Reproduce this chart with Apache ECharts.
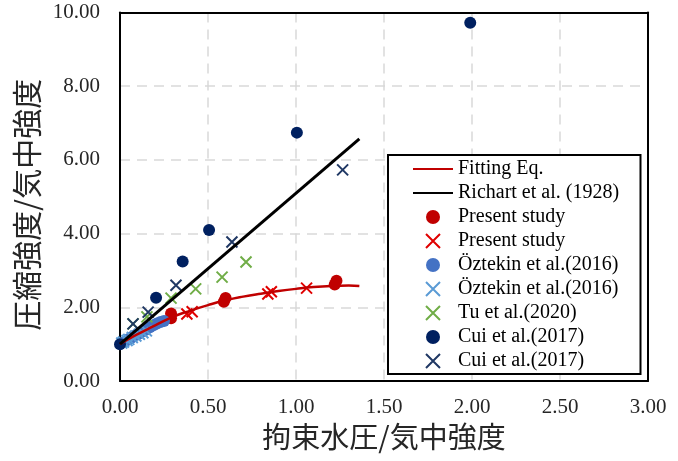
<!DOCTYPE html>
<html>
<head>
<meta charset="utf-8">
<script src="https://cdn.jsdelivr.net/npm/echarts@6/dist/echarts.min.js"></script>
<style>html,body{margin:0;padding:0;background:#fff}#c{width:678px;height:461px}</style>
</head>
<body>
<div id="c"></div>
<script>
// ---- data ----
var xTitle = '拘束水圧/気中強度';
var yTitle = '圧縮強度/気中強度';
var xTicks = [0, 3, 0.5];
var yTicks = [0, 10, 2];
var fittingEq = [[0,1.0],[0.05,1.14],[0.1,1.27],[0.15,1.39],[0.2,1.51],[0.3,1.74],[0.4,1.91],[0.5,2.06],[0.6,2.19],[0.7,2.29],[0.8,2.37],[0.9,2.44],[1.0,2.50],[1.1,2.55],[1.2,2.58],[1.3,2.59],[1.36,2.58]];
var richart = [[0,1.0],[1.36,6.57]];
var presentDots = [[0.29,1.70],[0.29,1.83],[0.59,2.15],[0.60,2.25],[1.22,2.62],[1.23,2.72]];
var presentCross = [[0.38,1.82],[0.41,1.88],[0.84,2.36],[0.86,2.42],[1.06,2.52]];
var oztekinDots = [[0.03,1.08],[0.05,1.14],[0.06,1.16],[0.07,1.20],[0.09,1.25],[0.10,1.27],[0.11,1.30],[0.13,1.35],[0.14,1.38],[0.15,1.41],[0.17,1.46],[0.19,1.51],[0.21,1.56],[0.23,1.60],[0.25,1.63]];
var oztekinCross = [[0.01,1.03],[0.02,1.06],[0.04,1.10],[0.05,1.13],[0.07,1.18],[0.09,1.22],[0.11,1.27],[0.13,1.31],[0.15,1.36]];
var tuCross = [[0.074,1.55],[0.153,1.74],[0.29,2.25],[0.43,2.50],[0.58,2.82],[0.716,3.23]];
var cuiDots = [[0,1.0],[0.205,2.26],[0.356,3.24],[0.506,4.10],[1.005,6.74],[1.99,9.72]];
var cuiCross = [[0.074,1.55],[0.16,1.87],[0.318,2.60],[0.636,3.77],[1.265,5.73]];
var names = ['Fitting Eq.','Richart et al. (1928)','Present study','Present study ','Öztekin et al.(2016)','Öztekin et al.(2016) ','Tu et al.(2020)','Cui et al.(2017)','Cui et al.(2017) '];

var serif = 'Liberation Serif';
var cross = 'path://M0,0L10,10M10,0L0,10';
function dots(name, data, color){
  return {name:name,type:'scatter',data:data,symbol:'circle',symbolSize:12,
    itemStyle:{color:color,opacity:1}};
}
function crosses(name, data, color){
  return {name:name,type:'scatter',data:data,symbol:cross,symbolSize:11,
    itemStyle:{color:color,borderColor:color,borderWidth:2,opacity:1}};
}
var fmt = function(v){return v.toFixed(2);};
var grid = {color:'#D9D9D9',width:1.5,type:[10,7]};
var legendData = names.map(function(n,i){
  return i < 2 ? {name:n,itemStyle:{opacity:0}} : {name:n};
});
var chart = echarts.init(document.getElementById('c'));
chart.setOption({
  animation:false,
  grid:{left:120,right:30,top:12.5,bottom:80},
  xAxis:[{type:'value',min:xTicks[0],max:xTicks[1],interval:xTicks[2],
    name:xTitle,nameLocation:'middle',nameGap:40,
    nameTextStyle:{fontFamily:'Noto Sans CJK JP',fontSize:29,color:'#262626'},
    axisLine:{show:true,onZero:false,lineStyle:{color:'#000',width:2}},axisTick:{show:false},
    axisLabel:{margin:16,fontFamily:serif,fontSize:21,color:'#262626',formatter:fmt},
    splitLine:{show:true,showMaxLine:false,showMinLine:false,lineStyle:grid}},
   {type:'value',position:'top',min:xTicks[0],max:xTicks[1],interval:xTicks[2],
    axisLine:{show:true,onZero:false,lineStyle:{color:'#000',width:2}},axisTick:{show:false},axisLabel:{show:false},splitLine:{show:false}}],
  yAxis:[{type:'value',min:yTicks[0],max:yTicks[1],interval:yTicks[2],
    name:yTitle,nameLocation:'middle',nameGap:66,
    nameTextStyle:{fontFamily:'Noto Sans CJK JP',fontSize:30,color:'#262626',padding:[0,16,0,0]},
    axisLine:{show:true,onZero:false,lineStyle:{color:'#000',width:2}},axisTick:{show:false},
    axisLabel:{margin:20,fontFamily:serif,fontSize:21,color:'#262626',formatter:fmt},
    splitLine:{show:true,showMaxLine:false,showMinLine:false,lineStyle:grid}},
   {type:'value',position:'right',min:yTicks[0],max:yTicks[1],interval:yTicks[2],
    axisLine:{show:true,onZero:false,lineStyle:{color:'#000',width:2}},axisTick:{show:false},axisLabel:{show:false},splitLine:{show:false}}],
  legend:{orient:'vertical',left:388,top:155,data:legendData,
    padding:[4,17,3,24],itemGap:4,itemWidth:40,itemHeight:14,
    backgroundColor:'#fff',borderColor:'#000',borderWidth:2,
    textStyle:{fontFamily:serif,fontSize:20,color:'#000'}},
  series:[
    {name:names[0],type:'line',data:fittingEq,smooth:true,symbol:'none',lineStyle:{color:'#C00000',width:2.5},itemStyle:{color:'#C00000'}},
    {name:names[1],type:'line',data:richart,symbol:'none',lineStyle:{color:'#000',width:3},itemStyle:{color:'#000'}},
    dots(names[2],presentDots,'#C00000'),
    crosses(names[3],presentCross,'#E00000'),
    dots(names[4],oztekinDots,'#4472C4'),
    crosses(names[5],oztekinCross,'#5B9BD5'),
    crosses(names[6],tuCross,'#70AD47'),
    dots(names[7],cuiDots,'#002060'),
    crosses(names[8],cuiCross,'#203864')
  ]
});
</script>
</body>
</html>
